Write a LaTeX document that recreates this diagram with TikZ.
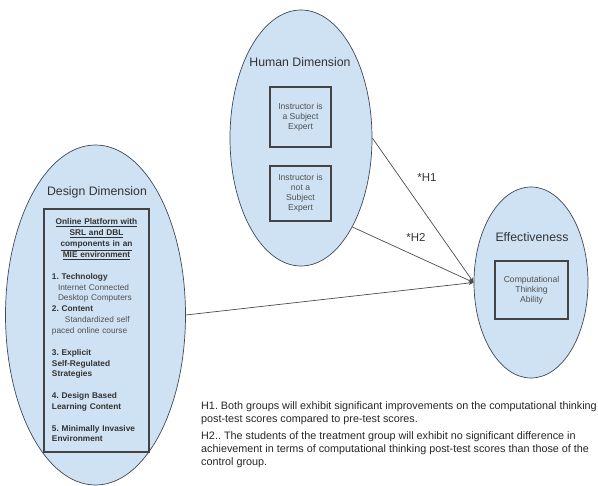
\documentclass[tikz,border=0pt]{standalone}
\usepackage{fontspec}
\setmainfont{Liberation Sans}
\usepackage{tikz}
\usetikzlibrary{arrows.meta,shapes.geometric,positioning}
\frenchspacing
\definecolor{dimFill}{HTML}{CFE2F3}
\definecolor{dimLine}{RGB}{62,72,88}
\definecolor{boxLine}{RGB}{67,67,67}
\definecolor{titleGray}{RGB}{51,51,51}
\definecolor{textGray}{RGB}{80,80,80}
\tikzset{
  dimension/.style={
    ellipse, draw=dimLine, line width=0.7pt, fill=dimFill, inner sep=0pt
  },
  dimtitle/.style={
    font=\fontsize{12.3pt}{14pt}\selectfont, text=titleGray, inner sep=0pt
  },
  factorbox/.style={
    rectangle, draw=boxLine, line width=1.2pt, align=center, text=textGray,
    inner sep=2pt, font=\fontsize{8.6pt}{10pt}\selectfont
  },
  hypArrow/.style={-{Stealth[length=5pt,width=4pt]}, line width=0.7pt, draw=black!70}
}

\begin{document}
\begin{tikzpicture}[x=1pt, y=-1pt,
        hlabel/.style={font=\fontsize{11.5pt}{13pt}\selectfont, text=titleGray}]
        \useasboundingbox (0,0) rectangle (598,486);
        \node[dimension, minimum width=180pt, minimum height=340pt] (design) at (95.5,315) {};
        \node[dimension, minimum width=142pt, minimum height=256pt] (human) at (301,138) {};
        \node[dimension, minimum width=114pt, minimum height=191pt] (effect) at (531,282.5) {};
        \node[dimtitle] (designTitle) at (97,192) {Design Dimension};
        \node[dimtitle] (humanTitle) at (300,62) {Human Dimension};
        \node[dimtitle] (effectTitle) at (532,237) {Effectiveness};
        \node[factorbox, minimum width=105pt, minimum height=243pt, text width=89pt,
              align=left, text=titleGray,
              font=\fontsize{8.3pt}{10.85pt}\selectfont] (platform) at (96.5,330.5) {%
          \makebox[89pt]{\bfseries\underline{Online Platform with}}\\
          \makebox[89pt]{\bfseries\underline{SRL and DBL}}\\
          \makebox[89pt]{\bfseries\underline{components in an}}\\
          \makebox[89pt]{\bfseries\underline{MIE environment}}\\[10.85pt]
          \textbf{1. Technology}\\
          \hspace*{6pt}{\color{textGray}Internet Connected}\\
          \hspace*{6pt}{\color{textGray}Desktop Computers}\\
          \textbf{2. Content}\\
          \hspace*{13pt}{\color{textGray}Standardized self}\\
          {\color{textGray}paced online course}\\[10.85pt]
          \textbf{3. Explicit}\\
          \textbf{Self-Regulated}\\
          \textbf{Strategies}\\[10.85pt]
          \textbf{4. Design Based}\\
          \textbf{Learning Content}\\[10.85pt]
          \textbf{5. Minimally Invasive}\\
          \textbf{Environment}};
        \node[factorbox, minimum width=61pt, minimum height=60pt] (expert) at (300.5,117) {Instructor is\\a Subject\\Expert};
        \node[factorbox, minimum width=61pt, minimum height=55pt] (nonExpert) at (300.5,193.5) {Instructor is\\not a\\Subject\\Expert};
        \node[factorbox, minimum width=73pt, minimum height=58pt] (ctAbility) at (531.5,290) {Computational\\Thinking\\Ability};
        \draw[hypArrow] (human.east) -- (effect.west);
        \draw[hypArrow] (human.-60) -- (effect.west);
        \draw[hypArrow] (design.east) -- (effect.west);
        \node[hlabel] (h1) at (427,178) {*H1};
        \node[hlabel] (h2) at (416,237) {*H2};
        \node[anchor=north west, inner sep=0pt, align=left, text=black!85,
              font=\fontsize{10.8pt}{13pt}\selectfont] (hypotheses) at (201,401.5) {%
          H1. Both groups will exhibit significant improvements on the computational thinking\\
          post-test scores compared to pre-test scores.\\[4pt]
          H2.. The students of the treatment group will exhibit no significant difference in\\
          achievement in terms of computational thinking post-test scores than those of the\\
          control group.};
      \end{tikzpicture}
\end{document}
